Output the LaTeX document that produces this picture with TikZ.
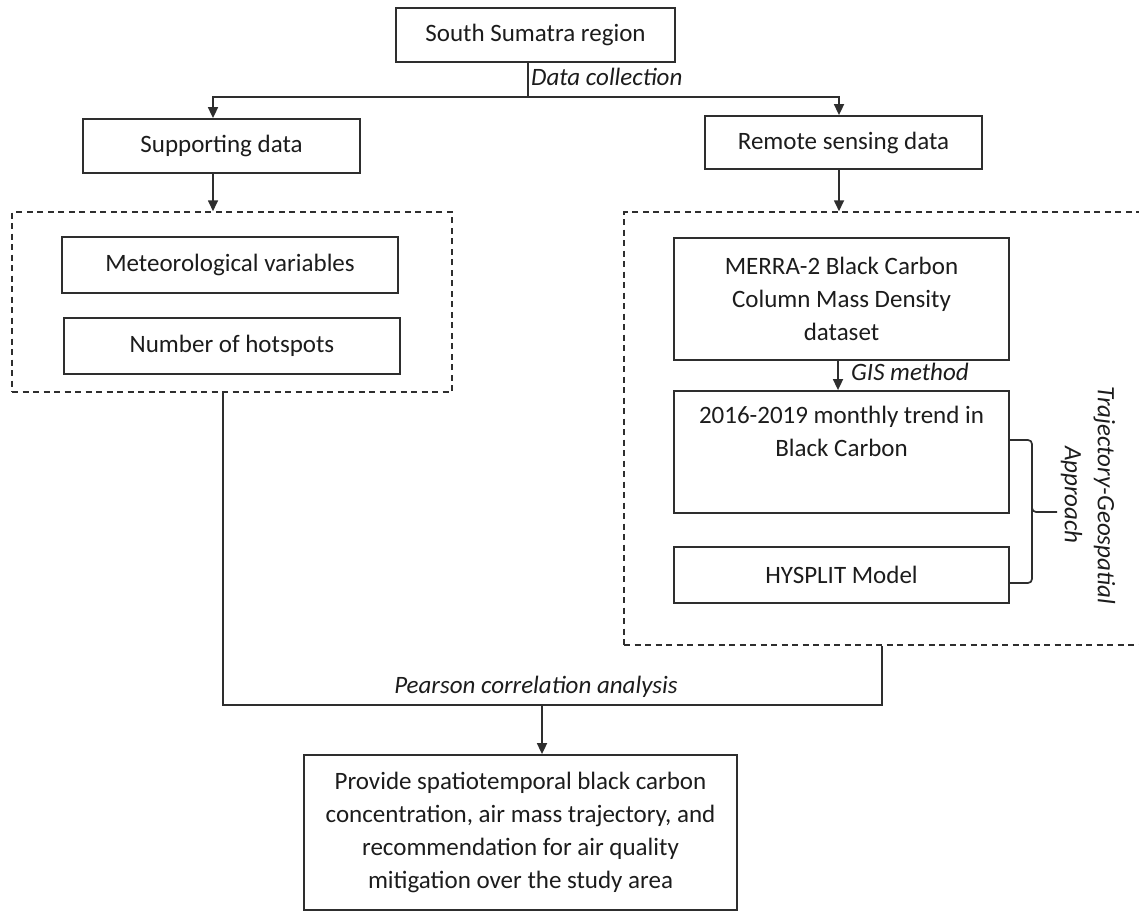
\documentclass[tikz,border=0pt]{standalone}
\usepackage{fontspec}
\setmainfont{Carlito}
\usetikzlibrary{arrows.meta,calc}
\definecolor{ink}{HTML}{1C1C1C}
\definecolor{linec}{HTML}{2E2E2E}
\tikzset{
  every node/.style={font=\fontsize{25}{33}\selectfont, text=ink},
  boxnode/.style={draw=linec, line width=1.8pt, inner sep=0pt, align=center},
  grpbox/.style={draw=linec, line width=1.5pt, dash pattern=on 6pt off 4.5pt, inner sep=0pt},
  conn/.style={draw=linec, line width=1.7pt},
  arr/.style={conn, -{Triangle[length=11pt,width=10pt]}},
  lbl/.style={font=\fontsize{25}{33}\selectfont\itshape, inner sep=0pt}
}
\begin{document}
\begin{tikzpicture}[x=1pt,y=-1pt]
\useasboundingbox (0,0) rectangle (1139,912);
% boxes
\node[boxnode, minimum width=279pt, minimum height=54pt] (south) at (535.5,35) {South Sumatra region};
\node[boxnode, minimum width=277pt, minimum height=54pt] (supp) at (221.5,146) {Supporting data};
\node[boxnode, minimum width=277pt, minimum height=53pt] (remote) at (843.5,142.5) {Remote sensing data};
\node[grpbox, minimum width=440pt, minimum height=180pt] (leftgrp) at (232,302) {};
\node[grpbox, minimum width=536pt, minimum height=433pt] (rightgrp) at (892,428.5) {};
\node[boxnode, minimum width=336pt, minimum height=56pt] (meteo) at (230,265) {Meteorological variables};
\node[boxnode, minimum width=336pt, minimum height=56pt] (hot) at (232,346) {Number of hotspots};
\node[boxnode, minimum width=335pt, minimum height=122pt] (merra) at (841.5,299) {MERRA-2 Black Carbon\\Column Mass Density\\dataset};
\node[boxnode, minimum width=335pt, minimum height=122pt] (trend) at (841.5,452) {};
\node[inner sep=0pt, align=center] (trendtxt) at (841.5,431.5) {2016-2019 monthly trend in\\Black Carbon};
\node[boxnode, minimum width=335pt, minimum height=56pt] (hys) at (841.5,575) {HYSPLIT Model};
\node[boxnode, minimum width=433pt, minimum height=155pt] (result) at (520.5,832.5) {Provide spatiotemporal black carbon\\concentration, air mass trajectory, and\\recommendation for air quality\\mitigation over the study area};
% labels
\node[lbl, anchor=west] (dc) at (531,77) {Data collection};
\node[lbl, anchor=west] (gis) at (851,372) {GIS method};
\node[lbl] (pear) at (536,687) {Pearson correlation analysis};
\node[lbl, align=center, rotate=-90] (traj) at (1088,495) {Trajectory-Geospatial\\Approach};
% connectors
\coordinate (split) at (528,97);
\coordinate (jL) at (213,97);
\coordinate (jR) at (839,97);
\draw[conn] (split |- south.south) -- (split);
\draw[arr] (split) -- (jL) -- (jL |- supp.north);
\draw[arr] (split) -- (jR) -- (jR |- remote.north);
\draw[arr] (jL |- supp.south) -- (jL |- leftgrp.north);
\draw[arr] (jR |- remote.south) -- (jR |- rightgrp.north);
\coordinate (gx) at (838,0);
\draw[arr] (gx |- merra.south) -- (gx |- trend.north);
\coordinate (lb) at (223,705);
\coordinate (rb) at (882,705);
\coordinate (mb) at (542,705);
\draw[conn] (lb |- leftgrp.south) -- (lb) -- (rb) -- (rb |- rightgrp.south);
\draw[arr] (mb) -- (mb |- result.north);
% brace
\draw[conn, rounded corners=4pt] (1009,440) -- (1032,440) -- (1032,512) -- (1057,512);
\draw[conn, rounded corners=4pt] (1032,505) -- (1032,583) -- (1009,583);
\end{tikzpicture}
\end{document}
